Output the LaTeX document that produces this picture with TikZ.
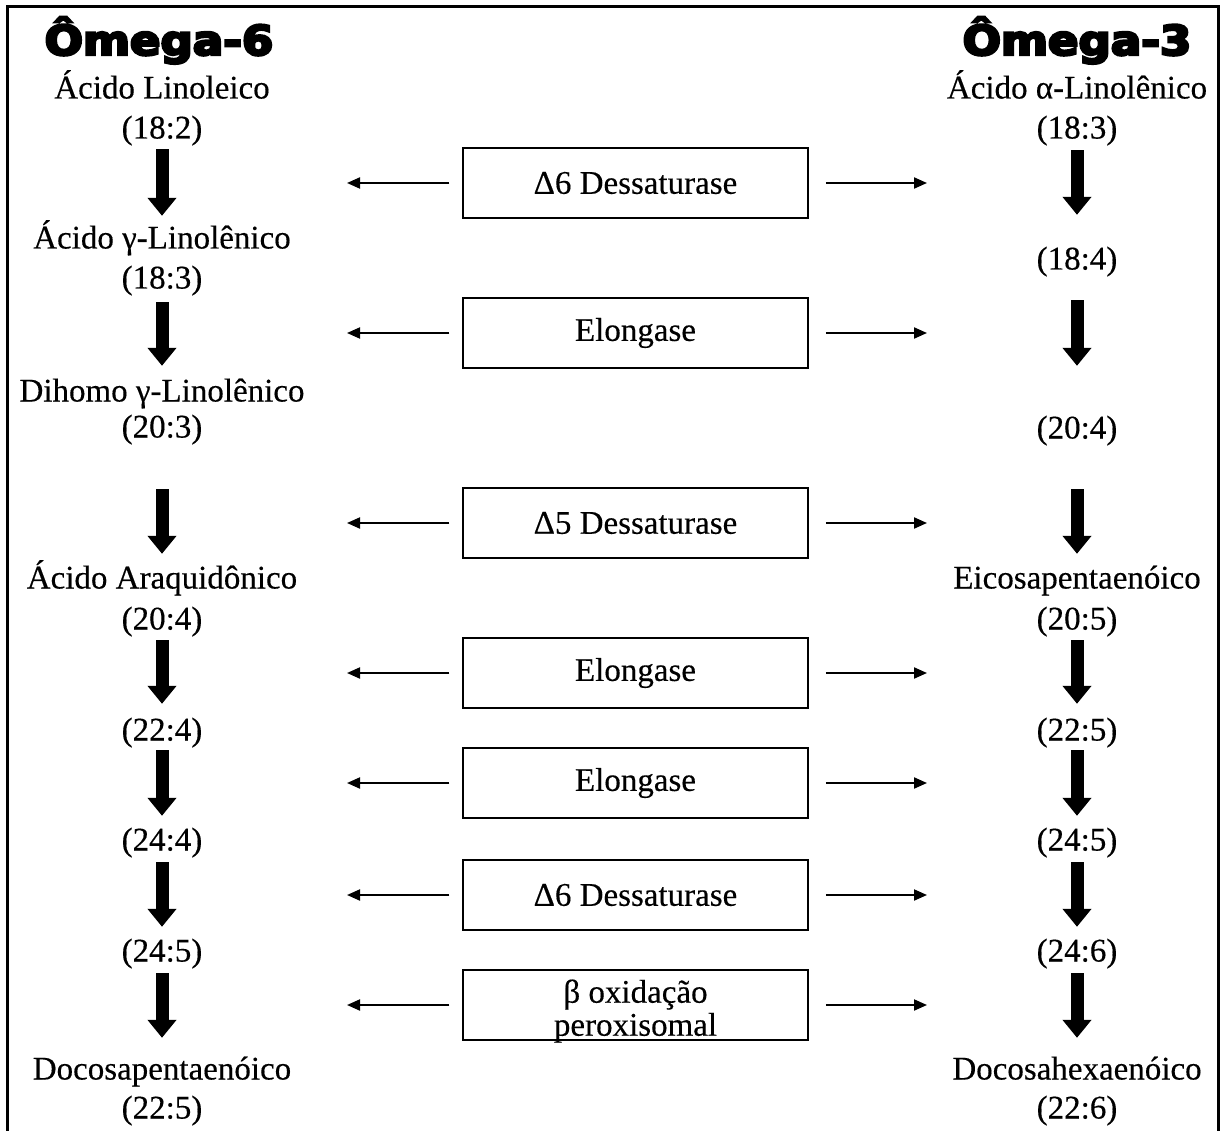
\documentclass[tikz,border=0pt]{standalone}
\usepackage{fontspec}
\setmainfont{Liberation Serif}[FakeBold=0.35]
\newfontfamily\titlefont{DejaVu Sans}[UprightFont={* Bold}, FakeBold=6]
\usetikzlibrary{arrows.meta}
\tikzset{
  lab/.style={inner sep=0pt, text height=22pt, text depth=7pt, font=\fontsize{33}{38}\selectfont},
  ttl/.style={inner sep=0pt, anchor=base, font=\titlefont\fontsize{41}{46}\selectfont},
  enz/.style={draw, line width=1.5pt, minimum width=345pt, minimum height=70pt, inner sep=0pt, align=center, font=\fontsize{33}{36}\selectfont},
  big/.style={line width=13pt, -{Triangle[length=18pt,width=28pt]}},
  thin/.style={line width=2pt, -{Triangle[length=13pt,width=11pt]}},
}
\begin{document}
\begin{tikzpicture}[x=1pt,y=-1pt]
\useasboundingbox (0,0) rectangle (1223,1131);
\draw[line width=3pt] (7,1135) -- (7,6.5) -- (1218,6.5) -- (1218,1135);
% titles
\node[ttl] (t6) at (159,55) {\scalebox{1.1}[1]{Ômega-6}};
\node[ttl] (t3) at (1077,55) {\scalebox{1.1}[1]{Ômega-3}};
% left column
\node[lab] (l1) at (162,91) {Ácido Linoleico};
\node[lab] (l1n) at (162,131) {(18:2)};
\node[lab] (l2) at (162,241) {Ácido γ-Linolênico};
\node[lab] (l2n) at (162,281) {(18:3)};
\node[lab] (l3) at (162,394) {Dihomo γ-Linolênico};
\node[lab] (l3n) at (162,430) {(20:3)};
\node[lab] (l4) at (162,581) {Ácido Araquidônico};
\node[lab] (l4n) at (162,622) {(20:4)};
\node[lab] (l5n) at (162,733) {(22:4)};
\node[lab] (l6n) at (162,843) {(24:4)};
\node[lab] (l7n) at (162,954) {(24:5)};
\node[lab] (l8) at (162,1072) {Docosapentaenóico};
\node[lab] (l8n) at (162,1111) {(22:5)};
% right column
\node[lab] (r1) at (1077,91) {Ácido α-Linolênico};
\node[lab] (r1n) at (1077,131) {(18:3)};
\node[lab] (r2n) at (1077,262) {(18:4)};
\node[lab] (r3n) at (1077,431) {(20:4)};
\node[lab] (r4) at (1077,581) {Eicosapentaenóico};
\node[lab] (r4n) at (1077,622) {(20:5)};
\node[lab] (r5n) at (1077,733) {(22:5)};
\node[lab] (r6n) at (1077,843) {(24:5)};
\node[lab] (r7n) at (1077,954) {(24:6)};
\node[lab] (r8) at (1077,1072) {Docosahexaenóico};
\node[lab] (r8n) at (1077,1111) {(22:6)};
% thick arrows left
\draw[big, shorten <=3.5pt, shorten >=10.5pt] (l1n) -- (l2);
\draw[big, shorten <=6.5pt, shorten >=13.5pt] (l2n) -- (l3);
\draw[big, shorten <=44.5pt, shorten >=12.5pt] (l3n) -- (l4);
\draw[big, shorten <=3.5pt, shorten >=14.5pt] (l4n) -- (l5n);
\draw[big, shorten <=2.5pt, shorten >=12.5pt] (l5n) -- (l6n);
\draw[big, shorten <=4.5pt, shorten >=12.5pt] (l6n) -- (l7n);
\draw[big, shorten <=4.5pt, shorten >=19.5pt] (l7n) -- (l8);
% thick arrows right
\draw[big, shorten <=4.5pt, shorten >=32.5pt] (r1n) -- (r2n);
\draw[big, shorten <=23.5pt, shorten >=50.5pt] (r2n) -- (r3n);
\draw[big, shorten <=43.5pt, shorten >=12.5pt] (r3n) -- (r4);
\draw[big, shorten <=3.5pt, shorten >=14.5pt] (r4n) -- (r5n);
\draw[big, shorten <=2.5pt, shorten >=12.5pt] (r5n) -- (r6n);
\draw[big, shorten <=4.5pt, shorten >=12.5pt] (r6n) -- (r7n);
\draw[big, shorten <=4.5pt, shorten >=19.5pt] (r7n) -- (r8);
% enzyme boxes
\node[enz] (e1) at (635.5,183) {Δ6 Dessaturase};
\node[enz] (e2) at (635.5,333) {Elongase};
\node[enz] (e3) at (635.5,523) {Δ5 Dessaturase};
\node[enz] (e4) at (635.5,673) {Elongase};
\node[enz] (e5) at (635.5,783) {Elongase};
\node[enz] (e6) at (635.5,895) {Δ6 Dessaturase};
\node[enz] (e7) at (635.5,1005) {\raisebox{-7pt}[\height][\depth]{\begin{tabular}{@{}c@{}}β oxidação\\[-3pt]peroxisomal\end{tabular}}};
% side arrows
\foreach \i/\y in {1/183,2/333,3/523,4/673,5/783,6/895,7/1005}{
  \coordinate (pl\i) at (347,\y);
  \coordinate (pr\i) at (927,\y);
  \draw[thin, shorten <=13pt] (e\i.west) -- (pl\i);
  \draw[thin, shorten <=17pt] (e\i.east) -- (pr\i);
}
\end{tikzpicture}
\end{document}
